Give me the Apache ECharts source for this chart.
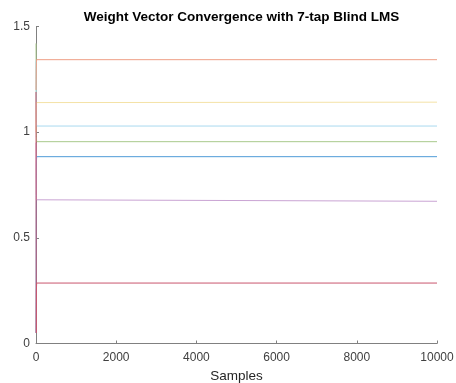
<!DOCTYPE html>
<html><head><meta charset="utf-8">
<script src="https://cdn.jsdelivr.net/npm/echarts@6/dist/echarts.min.js"></script>
<style>html,body{margin:0;padding:0;background:#fff}#c{width:456px;height:383px}</style>
</head><body><div id="c"></div>
<script>
const xTicks = [0, 2000, 4000, 6000, 8000, 10000];
const yTicks = [0, 0.5, 1, 1.5];
const samples = [0, 3, 6, 10, 16, 10000];
const w1 = [0.05, 0.20, 0.60, 0.85, 0.884, 0.884];
const w2 = [1.42, 1.30, 1.10, 0.98, 0.955, 0.955];
const w3 = [1.34, 1.20, 1.10, 1.05, 1.029, 1.029];
const w4 = [1.20, 1.25, 1.30, 1.33, 1.343, 1.343];
const w5 = [1.00, 1.08, 1.12, 1.14, 1.142, 1.142];
const w6 = [0.95, 0.80, 0.70, 0.68, 0.673, 0.673];
const w7 = [1.19, 0.70, 0.05, 0.25, 0.286, 0.286];
const names = ['w1','w2','w3','w4','w5','w6','w7'];
const seriesData = [w1, w2, w3, w4, w5, w6, w7];
const colors = ['#4f9bd8', '#a9c98c', '#a9d9ef', '#ef9f85', '#f4e2a6', '#c9a3d3', '#c9566e'];
const chart = echarts.init(document.getElementById('c'));
chart.setOption({
  animation: false,
  title: { text: 'Weight Vector Convergence with 7-tap Blind LMS', left: 236.5, textAlign: 'center', top: 5,
    textStyle: { fontFamily: 'Liberation Sans', fontSize: 13.5, fontWeight: 'bold', color: '#000' } },
  grid: { left: 36, right: 19, top: 26.5, bottom: 39.5, containLabel: false, outerBoundsMode: 'none' },
  xAxis: { type: 'value', min: xTicks[0], max: xTicks[xTicks.length-1], interval: 2000,
    name: 'Samples', nameLocation: 'middle', nameGap: 26,
    nameTextStyle: { fontFamily: 'Liberation Sans', fontSize: 13.5, color: '#262626' },
    axisLine: { lineStyle: { color: '#808080' } },
    axisTick: { inside: true, length: 3, lineStyle: { color: '#808080' } },
    axisLabel: { fontFamily: 'Liberation Sans', fontSize: 12, color: '#404040', margin: 8,
      formatter: v => String(v) },
    splitLine: { show: false } },
  yAxis: { type: 'value', min: yTicks[0], max: yTicks[yTicks.length-1], interval: 0.5,
    axisLine: { show: true, lineStyle: { color: '#808080' } },
    axisTick: { show: true, inside: true, length: 3, lineStyle: { color: '#808080' } },
    axisLabel: { fontFamily: 'Liberation Sans', fontSize: 12, color: '#404040', margin: 6,
      formatter: v => String(v) },
    splitLine: { show: false } },
  series: seriesData.map((d, i) => ({
    name: names[i], type: 'line', showSymbol: false, symbol: 'none',
    data: d.map((v, j) => [samples[j], v]),
    lineStyle: { width: 1, color: colors[i] }, itemStyle: { color: colors[i] }
  }))
});
</script></body></html>
